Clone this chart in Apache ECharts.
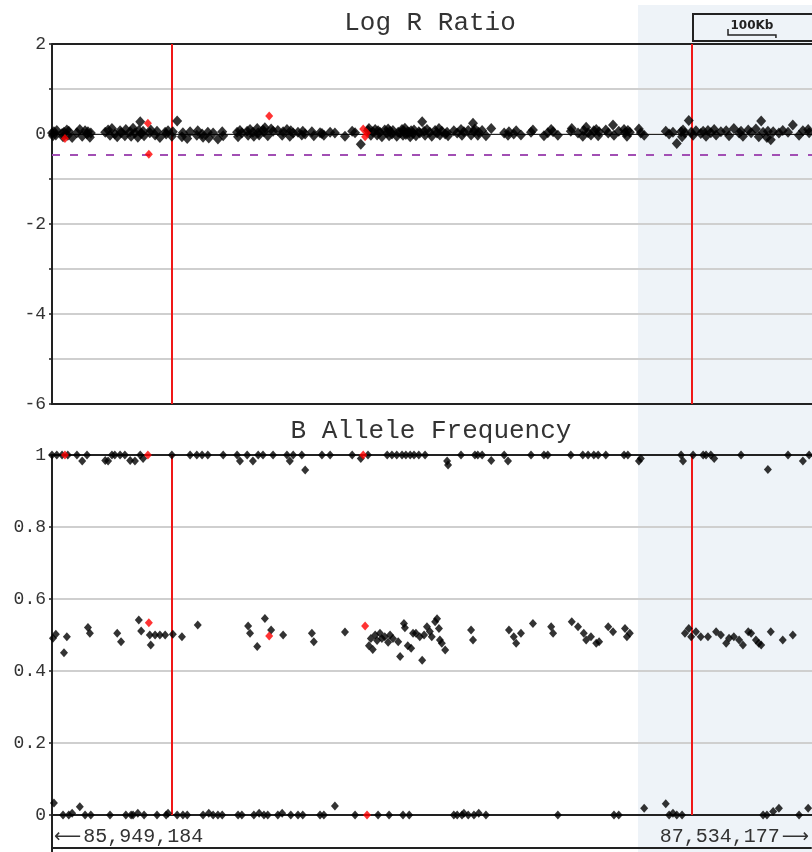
<!DOCTYPE html>
<html>
<head>
<meta charset="utf-8">
<script src="https://cdn.jsdelivr.net/npm/echarts@6/dist/echarts.min.js"></script>
<style>
html, body { margin: 0; padding: 0; background: #fff; }
#chart { width: 812px; height: 852px; }
</style>
</head>
<body>
<div id="chart"></div>
<script>
// Region shown (bp)
const REGION_START = 85949184;
const REGION_END = 87534177;

// Probe positions, in kb from REGION_START
const snpKb = [
  0, 2, 4, 8, 10, 21, 23, 25, 31, 33,
  35, 42, 52, 58, 63, 69, 73, 75, 79, 81,
  111, 117, 121, 125, 131, 136, 142, 144, 152, 154,
  163, 165, 169, 173, 179, 181, 184, 186, 190, 192,
  204, 206, 215, 219, 225, 236, 238, 242, 250, 252,
  261, 271, 273, 282, 288, 302, 304, 313, 315, 325,
  327, 336, 346, 355, 357, 386, 388, 392, 396, 407,
  409, 413, 419, 421, 428, 430, 432, 440, 442, 444,
  450, 457, 461, 471, 480, 482, 490, 496, 498, 503,
  513, 521, 523, 528, 542, 546, 559, 563, 567, 580,
  590, 611, 626, 632, 644, 659, 661, 665, 669, 674,
  678, 680, 684, 688, 694, 699, 701, 703, 705, 709,
  711, 719, 722, 726, 730, 732, 734, 736, 738, 742,
  745, 747, 749, 753, 755, 759, 765, 767, 772, 776,
  778, 782, 788, 792, 799, 803, 807, 809, 813, 820,
  824, 826, 838, 845, 853, 855, 859, 868, 874, 878,
  880, 882, 888, 890, 897, 905, 916, 943, 951, 953,
  963, 968, 978, 999, 1003, 1026, 1034, 1041, 1045, 1055,
  1082, 1084, 1097, 1107, 1109, 1114, 1118, 1124, 1130, 1135,
  1139, 1141, 1155, 1160, 1170, 1172, 1182, 1193, 1195, 1199,
  1201, 1205, 1224, 1228, 1235, 1280, 1287, 1295, 1303, 1312,
  1314, 1316, 1320, 1328, 1333, 1337, 1343, 1353, 1358, 1364,
  1368, 1374, 1381, 1385, 1395, 1406, 1412, 1422, 1433, 1437,
  1441, 1452, 1458, 1468, 1474, 1479, 1483, 1491, 1493, 1499,
  1504, 1516, 1524, 1535, 1545, 1558, 1566, 1577, 1579
];

// B allele frequency per probe
const snpBaf = [
  1.0, 0.491, 0.033, 0.502, 1.0, 1.0, 0.0, 0.451, 0.495, 1.0,
  0.0, 0.005, 1.0, 0.023, 0.983, 0.0, 1.0, 0.521, 0.505, 0.0,
  0.985, 0.983, 0.0, 1.0, 1.0, 0.505, 1.0, 0.481, 1.0, 0.0,
  0.985, 0.0, 0.0, 0.983, 0.005, 0.542, 1.0, 0.511, 0.99, 0.0,
  0.5, 0.472, 0.5, 0.0, 0.5, 0.5, 0.0, 0.005, 1.0, 0.502,
  0.0, 0.495, 0.0, 0.0, 1.0, 1.0, 0.528, 1.0, 0.0, 1.0,
  0.005, 0.0, 0.0, 0.0, 1.0, 1.0, 0.0, 0.983, 0.0, 1.0,
  0.525, 0.505, 0.983, 0.0, 0.468, 1.0, 0.005, 1.0, 0.0, 0.546,
  0.0, 0.514, 1.0, 0.0, 0.005, 0.5, 1.0, 0.983, 0.0, 1.0,
  0.0, 1.0, 0.0, 0.958, 0.505, 0.481, 0.0, 1.0, 0.0, 1.0,
  0.025, 0.508, 1.0, 0.0, 0.99, 1.0, 0.47, 0.49, 0.46, 0.5,
  0.485, 0.0, 0.505, 0.49, 0.495, 1.0, 0.48, 0.0, 0.5, 1.0,
  0.49, 1.0, 0.481, 0.44, 1.0, 0.0, 0.532, 0.52, 1.0, 0.47,
  0.0, 1.0, 0.463, 0.505, 1.0, 0.505, 1.0, 0.495, 0.43, 0.5,
  1.0, 0.523, 0.51, 0.495, 0.537, 0.545, 0.518, 0.486, 0.477, 0.458,
  0.983, 0.972, 0.0, 0.0, 1.0, 0.0, 0.005, 0.0, 0.514, 0.486,
  0.0, 1.0, 1.0, 0.005, 1.0, 0.0, 0.985, 1.0, 0.983, 0.514,
  0.495, 0.477, 0.505, 1.0, 0.532, 1.0, 1.0, 0.523, 0.505, 0.0,
  1.0, 0.537, 0.523, 1.0, 0.505, 0.486, 1.0, 0.495, 1.0, 0.477,
  1.0, 0.481, 1.0, 0.523, 0.509, 0.0, 0.0, 1.0, 0.518, 0.495,
  1.0, 0.505, 0.983, 0.99, 0.019, 0.031, 0.0, 0.005, 0.0, 1.0,
  0.0, 0.983, 0.505, 0.518, 0.495, 1.0, 0.509, 0.495, 1.0, 1.0,
  0.495, 1.0, 0.99, 0.509, 0.5, 0.477, 0.491, 0.495, 0.486, 1.0,
  0.472, 0.509, 0.505, 0.486, 0.477, 0.472, 0.0, 0.0, 0.96, 0.509,
  0.01, 0.019, 0.486, 1.0, 0.5, 0.0, 0.983, 0.019, 1.0
];

// Log R ratio per probe
const snpLrr = [
  0.02, -0.04, 0.05, -0.02, 0.08, 0.01, -0.06, 0.04, 0.09, -0.03,
  0.06, -0.08, 0.03, 0.1, -0.05, 0.07, 0.0, 0.05, -0.07, 0.02,
  0.04, 0.09, -0.03, 0.12, 0.0, -0.06, 0.07, 0.03, -0.04, 0.1,
  0.05, -0.05, 0.13, 0.02, -0.07, 0.08, 0.27, 0.01, 0.06, -0.04,
  0.03, 0.09, -0.02, 0.06, -0.08, 0.04, 0.0, 0.07, -0.05, 0.05,
  0.29, -0.06, 0.03, -0.1, 0.05, -0.03, 0.07, 0.0, -0.07, 0.04,
  -0.09, 0.02, -0.11, 0.05, -0.04, 0.04, -0.06, 0.08, 0.02, 0.06,
  -0.03, 0.1, 0.04, -0.05, 0.12, 0.03, -0.02, 0.09, 0.05, 0.14,
  -0.04, 0.11, 0.06, 0.08, -0.03, 0.05, 0.1, -0.05, 0.07, 0.02,
  0.04, -0.02, 0.06, 0.0, 0.05, -0.04, 0.03, 0.01, -0.03, 0.04,
  0.02, -0.05, 0.06, 0.03, -0.23, 0.08, 0.12, -0.03, 0.05, 0.1,
  -0.02, 0.07, 0.04, -0.06, 0.09, 0.03, 0.11, -0.04, 0.06, 0.0,
  0.08, -0.05, 0.04, 0.02, 0.1, -0.03, 0.06, 0.13, -0.01, 0.05,
  0.03, -0.06, 0.07, 0.01, 0.09, -0.04, 0.05, 0.02, 0.27, 0.06,
  -0.03, 0.1, 0.04, -0.05, 0.08, 0.02, 0.12, -0.02, 0.06, 0.0,
  0.04, -0.04, 0.07, 0.02, 0.1, -0.03, 0.05, 0.08, -0.02, 0.24,
  0.06, 0.11, -0.03, 0.04, 0.08, -0.04, 0.12, 0.02, -0.03, 0.05,
  0.0, 0.07, -0.02, 0.04, 0.09, -0.04, 0.03, 0.1, 0.05, -0.03,
  0.06, 0.12, 0.02, -0.05, 0.08, 0.15, 0.03, -0.02, 0.07, 0.1,
  -0.04, 0.05, 0.09, 0.02, 0.2, -0.03, 0.06, 0.1, 0.03, -0.05,
  0.08, 0.04, 0.11, 0.02, -0.03, 0.06, 0.0, 0.04, -0.21, 0.05,
  -0.06, 0.09, 0.02, 0.3, 0.04, -0.03, 0.07, 0.01, 0.06, -0.05,
  0.08, 0.03, 0.1, -0.02, 0.05, 0.07, -0.04, 0.12, 0.02, 0.06,
  -0.05, 0.09, 0.03, 0.11, -0.06, 0.29, 0.04, -0.08, 0.06, -0.13,
  0.05, 0.02, 0.08, 0.04, 0.2, -0.03, 0.07, 0.1, 0.03
];

// Flagged probes (drawn in red)
const flagKb = [27, 200, 202, 453, 649, 653, 657];
const flagBaf = [1.0, 1.0, 0.534, 0.497, 1.0, 0.525, 0.0];
const flagLrr = [-0.10, 0.24, -0.45, 0.40, 0.11, -0.06, 0.02];

// Breakpoints (bp) and highlighted interval start (bp)
const breakpoints = [86199500, 87283900];
const highlightStart = 87171300;
const lrrThreshold = -0.45;
const scaleBarKb = 100;

// Axis tick labels
const lrrLabelled = [-6, -4, -2, 0, 2];
const panelTitles = ['Log R Ratio', 'B Allele Frequency'];

const MONO = 'Liberation Mono, DejaVu Sans Mono, monospace';
const DARK = '#222';
const GRID_GRAY = '#cfcfcf';
const RED = '#f01818';

const toBp = kb => REGION_START + kb * 1000;
const lrrPoints = snpKb.map((k, i) => [toBp(k), snpLrr[i]]);
const bafPoints = snpKb.map((k, i) => [toBp(k), snpBaf[i]]);
const flagLrrPoints = flagKb.map((k, i) => [toBp(k), flagLrr[i]]);
const flagBafPoints = flagKb.map((k, i) => [toBp(k), flagBaf[i]]);

const fmtBp = v => Math.round(v).toLocaleString('en-US');

const chart = echarts.init(document.getElementById('chart'), null, { renderer: 'canvas' });

const xBase = { type: 'value', min: REGION_START, max: REGION_END };
const hiddenX = Object.assign({}, xBase, { show: false });

const yLeftLine = { show: true, onZero: false, lineStyle: { color: DARK, width: 2 } };

const breakLines = breakpoints.map(b => ({
  xAxis: b, lineStyle: { color: RED, width: 2, type: 'solid' }
}));

const option = {
  animation: false,
  backgroundColor: '#fff',
  grid: [
    { left: 52, right: 0, top: 5, bottom: 0 },
    { left: 52, right: 0, top: 44, height: 360 },
    { left: 52, right: 0, top: 455, height: 360 },
    { left: 52, right: 0, top: 815, height: 33 },
    { left: 52, right: 0, top: 848, height: 40 }
  ],
  xAxis: [
    Object.assign({}, hiddenX, { gridIndex: 0 }),
    Object.assign({}, xBase, {
      gridIndex: 1,
      axisLine: { show: true, onZero: false, lineStyle: { color: DARK, width: 2 } },
      axisTick: { show: false }, axisLabel: { show: false }, splitLine: { show: false }
    }),
    Object.assign({}, xBase, {
      gridIndex: 2,
      axisLine: { show: true, onZero: false, lineStyle: { color: DARK, width: 2 } },
      axisTick: { show: false }, axisLabel: { show: false }, splitLine: { show: false }
    }),
    Object.assign({}, xBase, {
      gridIndex: 3,
      axisLine: { show: true, onZero: false, lineStyle: { color: DARK, width: 2 } },
      axisTick: { show: false },
      splitLine: { show: false },
      axisLabel: {
        show: true,
        inside: true,
        margin: 1,
        customValues: [REGION_START, REGION_END],
        alignMinLabel: 'left',
        alignMaxLabel: 'right',
        fontFamily: MONO,
        fontSize: 20,
        color: '#333',
        formatter: v => (v <= REGION_START
          ? '{arr|\u27f5}' + fmtBp(REGION_START)
          : fmtBp(REGION_END) + '{arr|\u27f6}'),
        rich: {
          arr: { fontFamily: 'DejaVu Sans', fontSize: 19, color: '#333', padding: [0, 2, 0, 2] }
        }
      }
    }),
    Object.assign({}, hiddenX, { gridIndex: 4 })
  ],
  yAxis: [
    { type: 'value', gridIndex: 0, min: 0, max: 1, show: false },
    {
      type: 'value', gridIndex: 1, min: -6, max: 2, interval: 1,
      axisLine: yLeftLine,
      axisTick: { show: true, length: 3, lineStyle: { color: DARK, width: 1.5 } },
      axisLabel: {
        margin: 6, fontFamily: MONO, fontSize: 18, color: '#333',
        formatter: v => (lrrLabelled.indexOf(v) >= 0 ? String(v) : '')
      },
      splitLine: { show: true, lineStyle: { color: GRID_GRAY, width: 2 } }
    },
    {
      type: 'value', gridIndex: 2, min: 0, max: 1, interval: 0.2,
      axisLine: yLeftLine,
      axisTick: { show: true, length: 3, lineStyle: { color: DARK, width: 1.5 } },
      axisLabel: {
        margin: 6, fontFamily: MONO, fontSize: 18, color: '#333',
        formatter: v => String(Number(v.toFixed(2)))
      },
      splitLine: { show: true, lineStyle: { color: GRID_GRAY, width: 2 } }
    },
    {
      type: 'value', gridIndex: 3, min: 0, max: 1,
      axisLine: yLeftLine, axisTick: { show: false }, axisLabel: { show: false }, splitLine: { show: false }
    },
    {
      type: 'value', gridIndex: 4, min: 0, max: 1,
      axisLine: yLeftLine, axisTick: { show: false }, axisLabel: { show: false }, splitLine: { show: false }
    }
  ],
  series: [
    {
      // highlighted interval, spanning both panels
      type: 'scatter', xAxisIndex: 0, yAxisIndex: 0, data: [], z: -2, silent: true,
      markArea: {
        silent: true, z: -2,
        itemStyle: { color: '#eef3f8' },
        data: [[{ xAxis: highlightStart }, { xAxis: REGION_END }]]
      }
    },
    {
      name: 'LRR', type: 'scatter', xAxisIndex: 1, yAxisIndex: 1,
      symbol: 'diamond', symbolSize: [10, 11],
      itemStyle: { color: '#000' },
      data: lrrPoints,
      markLine: {
        silent: true, symbol: 'none', z: 1, animation: false,
        label: { show: false },
        data: [
          { yAxis: 2, lineStyle: { color: DARK, width: 2, type: 'solid' } },
          { yAxis: 0, lineStyle: { color: DARK, width: 1.2, type: 'solid' } },
          { yAxis: lrrThreshold, lineStyle: { color: '#a24fb4', width: 2, type: [8, 10] } }
        ].concat(breakLines)
      }
    },
    {
      name: 'LRR flagged', type: 'scatter', xAxisIndex: 1, yAxisIndex: 1,
      symbol: 'diamond', symbolSize: [8, 9], z: 3,
      itemStyle: { color: '#ff0000' },
      data: flagLrrPoints
    },
    {
      name: 'BAF', type: 'scatter', xAxisIndex: 2, yAxisIndex: 2,
      symbol: 'diamond', symbolSize: [8, 9],
      itemStyle: { color: '#000' },
      data: bafPoints,
      markLine: {
        silent: true, symbol: 'none', z: 1, animation: false,
        label: { show: false },
        data: [
          { yAxis: 1, lineStyle: { color: DARK, width: 2, type: 'solid' } }
        ].concat(breakLines)
      }
    },
    {
      name: 'BAF flagged', type: 'scatter', xAxisIndex: 2, yAxisIndex: 2,
      symbol: 'diamond', symbolSize: [8, 9], z: 3,
      itemStyle: { color: '#ff0000' },
      data: flagBafPoints
    }
  ]
};

chart.setOption(option);

// Panel titles and the 100 Kb scale bar
const px0 = chart.convertToPixel({ xAxisIndex: 1 }, REGION_START);
const px1 = chart.convertToPixel({ xAxisIndex: 1 }, REGION_START + scaleBarKb * 1000);
const barW = px1 - px0;
const barX = 728;

chart.setOption({
  graphic: [
    {
      type: 'text', x: 430, y: 23, z: 10,
      style: { text: panelTitles[0], font: '26px ' + MONO, fill: '#333', align: 'center', verticalAlign: 'middle' }
    },
    {
      type: 'text', x: 431, y: 431, z: 10,
      style: { text: panelTitles[1], font: '26px ' + MONO, fill: '#333', align: 'center', verticalAlign: 'middle' }
    },
    {
      type: 'rect', z: 10,
      shape: { x: 693, y: 14, width: 140, height: 27 },
      style: { fill: 'none', stroke: DARK, lineWidth: 2 }
    },
    {
      type: 'text', x: barX + barW / 2, y: 26, z: 10,
      style: { text: scaleBarKb + 'Kb', font: 'bold 12px DejaVu Sans, sans-serif', fill: '#222', align: 'center', verticalAlign: 'middle' }
    },
    {
      type: 'polyline', z: 10,
      shape: { points: [[barX, 29], [barX, 35], [barX + barW, 35], [barX + barW, 38]] },
      style: { stroke: '#222', lineWidth: 1.5, fill: 'none' }
    }
  ]
});
</script>
</body>
</html>
